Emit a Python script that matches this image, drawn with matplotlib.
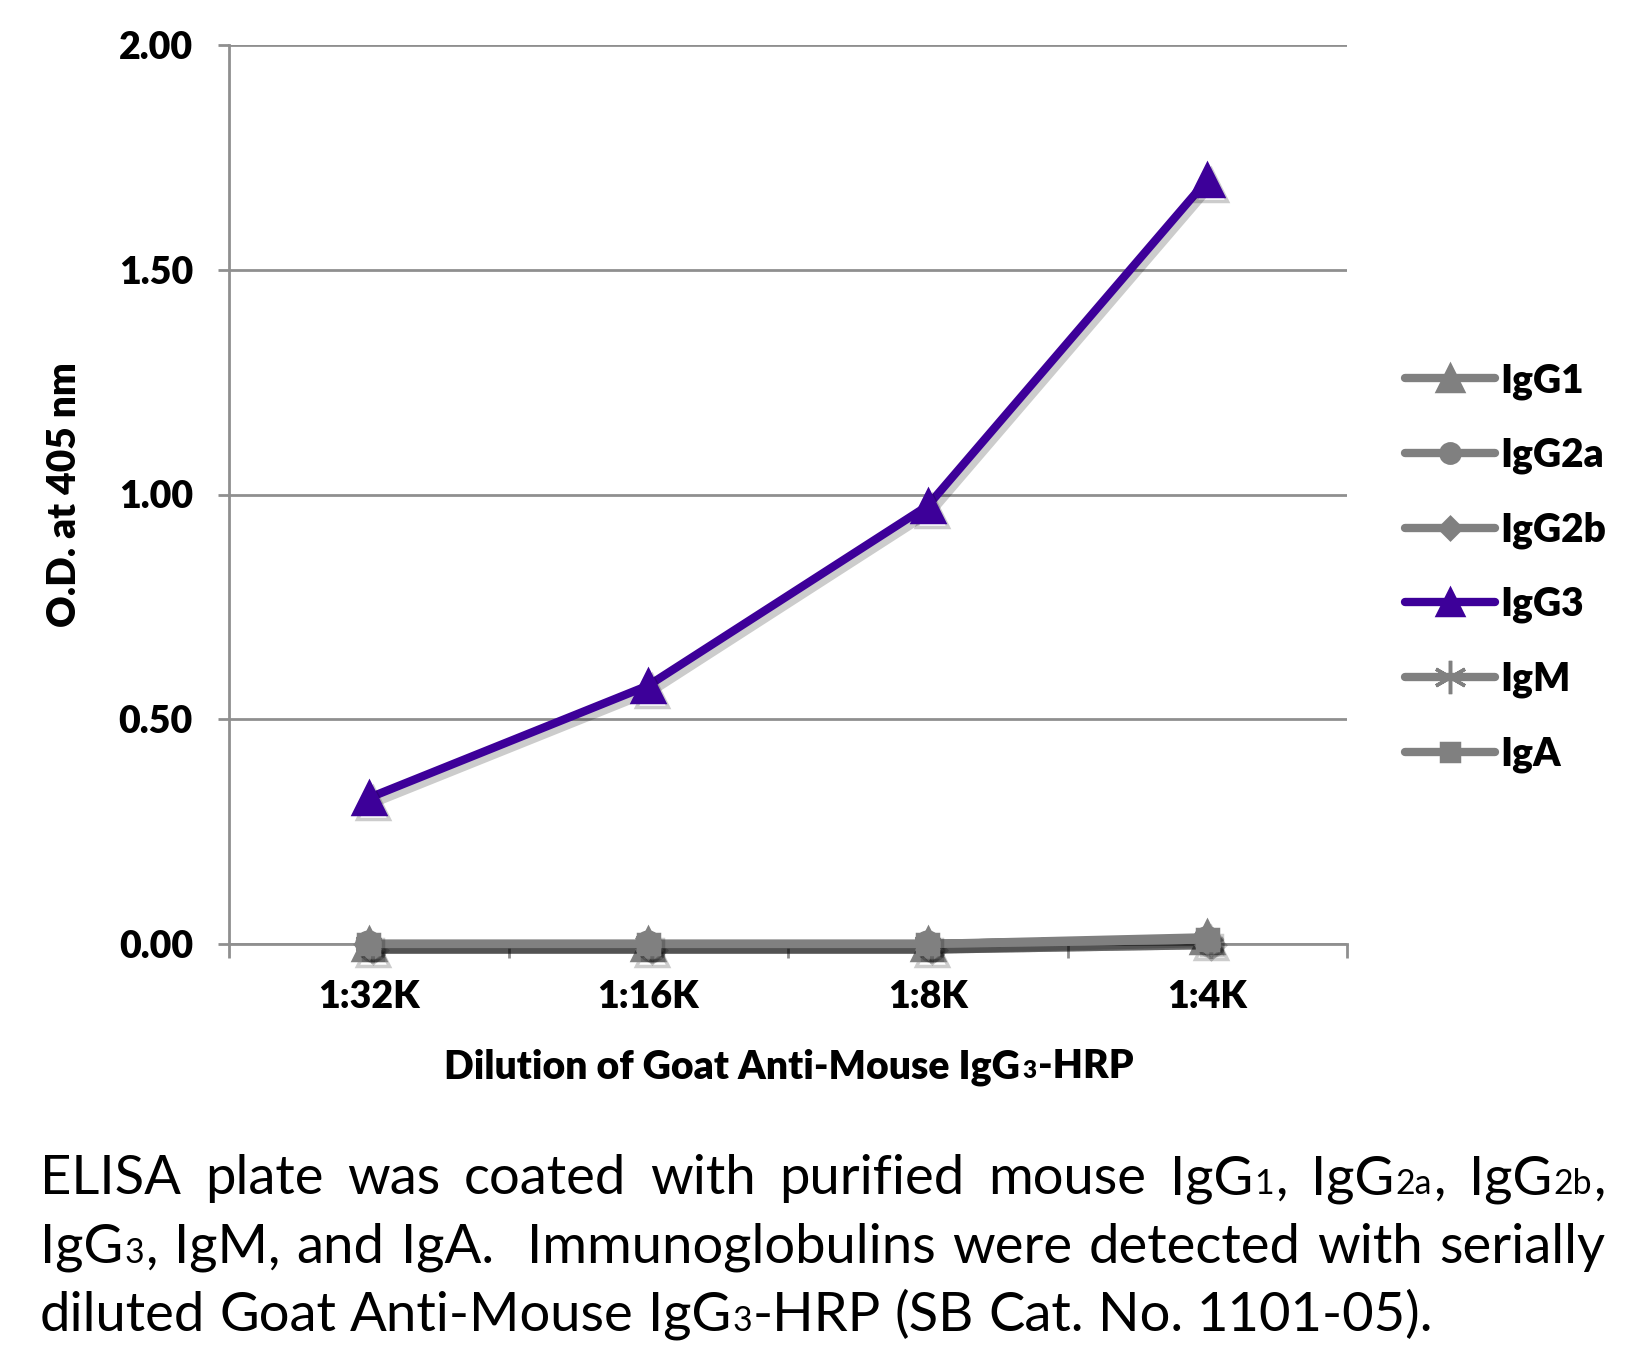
import re
import matplotlib
matplotlib.use('Agg')
import matplotlib.pyplot as plt
import matplotlib.patheffects as pe
from matplotlib import font_manager
from matplotlib.font_manager import FontProperties
from matplotlib.lines import Line2D

# data
dilutions = ['1:32K', '1:16K', '1:8K', '1:4K']
igg1 = [0.00, 0.00, 0.00, 0.015]
igg2a = [0.00, 0.00, 0.00, 0.01]
igg2b = [0.00, 0.00, 0.00, 0.01]
igg3 = [0.325, 0.575, 0.975, 1.70]
igm = [0.00, 0.00, 0.00, 0.01]
iga = [0.00, 0.00, 0.00, 0.01]

series_names = ['IgG1', 'IgG2a', 'IgG2b', 'IgG3', 'IgM', 'IgA']
series_vals = [igg1, igg2a, igg2b, igg3, igm, iga]
y_ticks = [0.0, 0.5, 1.0, 1.5, 2.0]

caption_lines = [
    'ELISA plate was coated with purified mouse IgG{1}, IgG{2a}, IgG{2b},',
    'IgG{3}, IgM, and IgA.  Immunoglobulins were detected with serially',
    'diluted Goat Anti-Mouse IgG{3}-HRP (SB Cat. No. 1101-05).',
]
x_label_runs = [('Dilution of Goat Anti-Mouse IgG', 1.0), ('3', 0.62), ('-HRP', 1.0)]

GRAY = '#808080'
PURPLE = '#3d0099'
GRID = '#8f8f8f'

names = {f.name for f in font_manager.fontManager.ttflist}
font = 'Lato' if 'Lato' in names else 'DejaVu Sans'
BOLD = 'heavy'
cap_fp = FontProperties(family=font)

W, H = 1650, 1349
fig = plt.figure(figsize=(W / 100, H / 100), dpi=100)
renderer = fig.canvas.get_renderer()

ax = fig.add_axes([229 / W, 1 - 944 / H, 1118 / W, 899 / H])
x = list(range(len(dilutions)))

styles = {
    'IgG1': dict(color=GRAY, marker='^'),
    'IgG2a': dict(color=GRAY, marker='o'),
    'IgG2b': dict(color=GRAY, marker='D'),
    'IgG3': dict(color=PURPLE, marker='^'),
    'IgM': dict(color=GRAY, marker=(6, 2, 0)),
    'IgA': dict(color=GRAY, marker='s'),
}
msizes = {'^': 23, 'o': 17, 'D': 14, 's': 15}

shadow = [pe.SimpleLineShadow(offset=(3, -4), shadow_color='k', alpha=0.2), pe.Normal()]
handles = []
for name, vals in zip(series_names, series_vals):
    st = styles[name]
    mk = st['marker']
    ms = msizes.get(mk, 20) if isinstance(mk, str) else 20
    z = 5 if name == 'IgG3' else 3
    ax.plot(x, vals, color=st['color'], lw=6, marker=mk, markersize=ms,
            markeredgecolor=st['color'], markeredgewidth=2.5,
            solid_capstyle='round', clip_on=False, zorder=z, path_effects=shadow)
    lms = ms * 0.82 if isinstance(mk, str) else 24
    handles.append(Line2D([], [], color=st['color'], lw=6, marker=mk,
                          markersize=lms, markeredgecolor=st['color'],
                          markeredgewidth=2.5, solid_capstyle='round'))

ax.set_xlim(-0.5, len(dilutions) - 0.5)
ax.set_ylim(0, 2.0)
ax.set_yticks(y_ticks)
ax.set_yticklabels([f'{v:.2f}' for v in y_ticks])
ax.set_xticks(x)
ax.set_xticklabels(dilutions)
ax.set_xticks([i - 0.5 for i in range(len(dilutions) + 1)], minor=True)

for lbl in ax.get_yticklabels() + ax.get_xticklabels():
    lbl.set_fontfamily(font)
    lbl.set_fontweight(BOLD)
    lbl.set_fontsize(27)

ax.tick_params(axis='y', which='major', length=8, width=2, color=GRID, pad=18)
ax.tick_params(axis='x', which='major', length=0, pad=26)
ax.tick_params(axis='x', which='minor', length=10, width=2, color=GRID)
ax.yaxis.grid(True, color=GRID, lw=2)
ax.set_axisbelow(True)
for s in ['top', 'right']:
    ax.spines[s].set_visible(False)
for s in ['left', 'bottom']:
    ax.spines[s].set_color(GRID)
    ax.spines[s].set_linewidth(2)

fig.text(65 / W, 1 - 495 / H, 'O.D. at 405 nm', rotation=90, ha='center', va='center',
         fontsize=28, fontweight=BOLD, family=font)

fig.legend(handles, series_names, loc='upper left', bbox_to_anchor=(1405 / W, 1 - 362 / H),
           frameon=False, prop=dict(family=font, weight=BOLD, size=28),
           handlelength=2.32, handletextpad=0.12, labelspacing=0.955,
           borderpad=0, borderaxespad=0)


def make_fp(size, weight=None, fp=None):
    if fp is None:
        return FontProperties(family=font, weight=weight, size=size)
    p = fp.copy()
    p.set_size(size)
    return p


def text_width(s, fp):
    t = fig.text(0, 0, s, fontproperties=fp)
    w = t.get_window_extent(renderer).width
    t.remove()
    return w


def runs_width(runs, gap):
    return sum(text_width(s, fp) for s, fp in runs) + gap * (len(runs) - 1)


def draw_runs(runs, x_px, y_px, gap):
    xp = x_px
    for s, fp in runs:
        fig.text(xp / W, 1 - y_px / H, s, fontproperties=fp, va='baseline', ha='left')
        xp += text_width(s, fp) + gap
    return xp


# x axis label with small "3"
xl_size = 28.2
xl_runs = [(s, make_fp(xl_size * k, BOLD)) for s, k in x_label_runs]
xl_w = runs_width(xl_runs, 2)
draw_runs(xl_runs, 789 - xl_w / 2, 1078, 2)


# caption, justified
def parse_word(word, size):
    runs = []
    for part in re.split(r'(\{[^}]*\})', word):
        if not part:
            continue
        if part.startswith('{'):
            runs.append((part[1:-1], make_fp(size * 0.62, fp=cap_fp)))
        else:
            runs.append((part, make_fp(size, fp=cap_fp)))
    return runs


def split_line(line):
    # words plus the number of spaces after each
    parts = re.findall(r'(\S+)(\s*)', line)
    return [w for w, _ in parts], [len(sp) for _, sp in parts][:-1]


cap_left, cap_right = 40, 1605
avail = cap_right - cap_left
base = 40
fp_base = make_fp(base, fp=cap_fp)
space40 = text_width('a a', fp_base) - text_width('aa', fp_base)
nat = []
for line in caption_lines[:2]:
    words, seps = split_line(line)
    nat.append(sum(runs_width(parse_word(w, base), 1) for w in words) + space40 * sum(seps))
cap_size = min(base, base * avail * 0.985 / max(nat))
space = space40 * cap_size / base

baselines = [1194, 1263, 1331]
for i, line in enumerate(caption_lines):
    words, seps = split_line(line)
    wruns = [parse_word(w, cap_size) for w in words]
    widths = [runs_width(r, 1) for r in wruns]
    if i < len(caption_lines) - 1:
        unit = (avail - sum(widths)) / sum(seps)
    else:
        unit = space
    xp = cap_left
    for j, (r, w) in enumerate(zip(wruns, widths)):
        draw_runs(r, xp, baselines[i], 1)
        if j < len(seps):
            xp += w + unit * seps[j]

fig.savefig('out.png', dpi=100)
